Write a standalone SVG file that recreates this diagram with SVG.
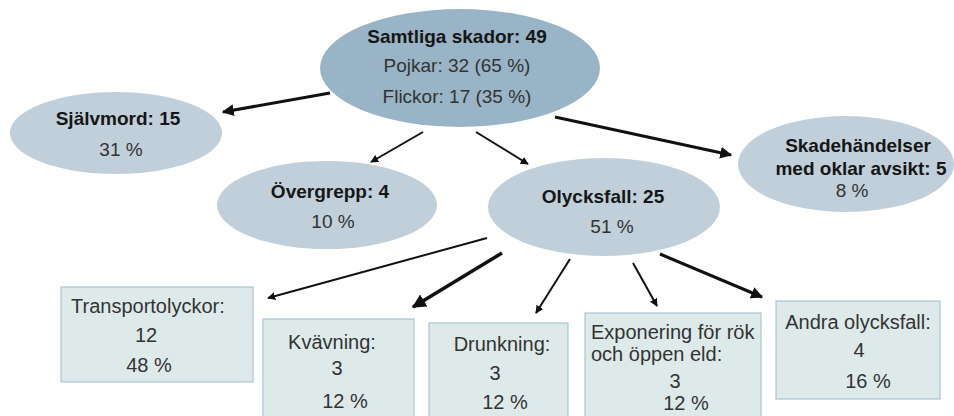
<svg xmlns="http://www.w3.org/2000/svg" width="954" height="416" viewBox="0 0 954 416">
<defs>
<style>
.ell{fill:#c0cfd9;}
.top{fill:#98b4c6;}
.box{fill:#deeaea;stroke:#a9c5d1;stroke-width:1.2;}
.b{font-family:"Liberation Sans",Arial,sans-serif;font-weight:bold;font-size:19px;fill:#161616;text-anchor:middle;}
.r{font-family:"Liberation Sans",Arial,sans-serif;font-size:19px;fill:#333;text-anchor:middle;}
.q{font-family:"Liberation Sans",Arial,sans-serif;font-size:20px;fill:#333;text-anchor:middle;}
.t{font-family:"Liberation Sans",Arial,sans-serif;font-size:20px;fill:#333;}
.c{stroke:#111;fill:none;marker-end:url(#ah);}
</style>
<marker id="ah" viewBox="0 0 10 10" refX="9" refY="5" markerWidth="4" markerHeight="4" orient="auto" markerUnits="strokeWidth">
<path d="M0,0 L10,5 L0,10 Z" fill="#111"/>
</marker>
</defs>
<rect width="954" height="416" fill="#fff"/>
<g id="connectors">
<line class="c" x1="330" y1="93" x2="223" y2="112" stroke-width="3"/>
<line class="c" x1="423" y1="132" x2="371" y2="162" stroke-width="2"/>
<line class="c" x1="476" y1="132" x2="528" y2="164" stroke-width="2"/>
<line class="c" x1="555" y1="117" x2="731" y2="155" stroke-width="3"/>
<line class="c" x1="487" y1="238" x2="268" y2="298" stroke-width="2"/>
<line class="c" x1="502" y1="253" x2="413" y2="307" stroke-width="3.5"/>
<line class="c" x1="570" y1="259" x2="536" y2="313" stroke-width="2"/>
<line class="c" x1="633" y1="263" x2="657" y2="306" stroke-width="2"/>
<line class="c" x1="660" y1="254" x2="762" y2="297" stroke-width="3"/>
</g>
<g id="samtliga">
<ellipse class="top" cx="460" cy="68" rx="140" ry="59"/>
<text class="b" x="457" y="43">Samtliga skador: 49</text>
<text class="r" x="457" y="72">Pojkar: 32 (65 %)</text>
<text class="r" x="457" y="103">Flickor: 17 (35 %)</text>
</g>
<g id="sjalvmord">
<ellipse class="ell" cx="116" cy="133" rx="106" ry="41"/>
<text class="b" x="118" y="125">Självmord: 15</text>
<text class="r" x="121" y="156">31 %</text>
</g>
<g id="overgrepp">
<ellipse class="ell" cx="327" cy="205" rx="110" ry="44"/>
<text class="b" x="330" y="198">Övergrepp: 4</text>
<text class="r" x="333" y="228">10 %</text>
</g>
<g id="olycksfall">
<ellipse class="ell" cx="604" cy="207" rx="116" ry="49"/>
<text class="b" x="603" y="203">Olycksfall: 25</text>
<text class="r" x="612" y="233">51 %</text>
</g>
<g id="skadehandelser">
<ellipse class="ell" cx="846" cy="164" rx="108" ry="48"/>
<text class="b" x="858" y="152">Skadehändelser</text>
<text class="b" x="861" y="175">med oklar avsikt: 5</text>
<text class="r" x="852" y="197">8 %</text>
</g>
<g id="transport">
<rect class="box" x="61" y="287" width="192" height="95"/>
<text class="t" x="71" y="313">Transportolyckor:</text>
<text class="q" x="146" y="342">12</text>
<text class="q" x="149" y="372">48 %</text>
</g>
<g id="kvavning">
<rect class="box" x="263" y="319" width="151" height="110"/>
<text class="q" x="332" y="349">Kvävning:</text>
<text class="q" x="337" y="375">3</text>
<text class="q" x="345" y="408">12 %</text>
</g>
<g id="drunkning">
<rect class="box" x="429" y="323" width="139" height="110"/>
<text class="q" x="502" y="351">Drunkning:</text>
<text class="q" x="495" y="380">3</text>
<text class="q" x="505" y="409">12 %</text>
</g>
<g id="exponering">
<rect class="box" x="585" y="313" width="176" height="120"/>
<text class="t" x="591" y="339">Exponering för rök</text>
<text class="t" x="591" y="361">och öppen eld:</text>
<text class="q" x="675" y="388">3</text>
<text class="q" x="686" y="410">12 %</text>
</g>
<g id="andra">
<rect class="box" x="776" y="301" width="164" height="98"/>
<text class="q" x="858" y="329">Andra olycksfall:</text>
<text class="q" x="859" y="357">4</text>
<text class="q" x="868" y="388">16 %</text>
</g>
</svg>
